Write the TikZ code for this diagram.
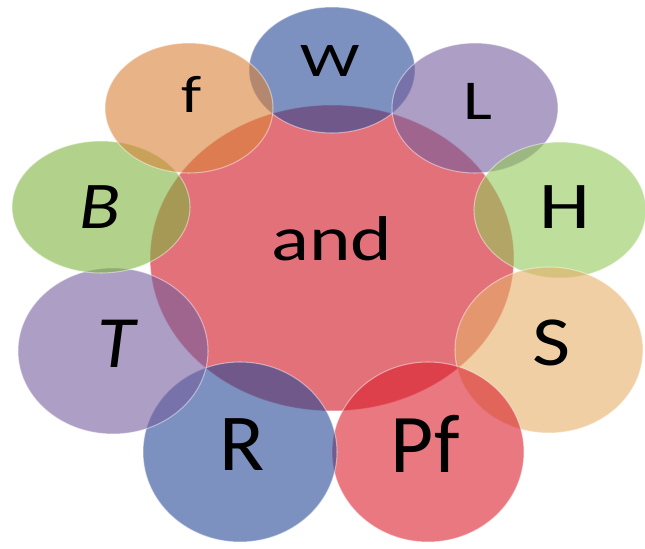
\documentclass[tikz,border=0pt]{standalone}
\usepackage{fontspec}
\setmainfont{Carlito}
\usetikzlibrary{shapes.geometric}

% disc colours (drawn at 60% opacity)
\definecolor{cand}{RGB}{207,18,33}
\definecolor{cblue}{RGB}{38,72,150}
\definecolor{cviolet}{RGB}{117,93,157}
\definecolor{cgreenH}{RGB}{147,200,88}
\definecolor{cgreenB}{RGB}{127,180,63}
\definecolor{cpeach}{RGB}{230,175,105}
\definecolor{corange}{RGB}{217,130,55}
\definecolor{cred}{RGB}{218,30,43}

% letters are stretched sideways by the tilt
\newcommand{\wtxt}[2]{\scalebox{#1}[1]{#2}}

\begin{document}
\begin{tikzpicture}[
    disc/.style={ellipse, draw=white, draw opacity=0.45, line width=0.6pt,
                 fill opacity=0.6, inner sep=0pt, outer sep=0pt},
    lbl/.style={inner sep=0pt, text=black},
]
\useasboundingbox (0,0) rectangle (12.9,10.96);
% ---- central disc ----
\node[disc, fill=cand, minimum width=7.28cm, minimum height=6.12cm] (and) at (6.64,5.80) {};
% ---- outer discs, clockwise from the top (each over the one before) ----
\node[disc, fill=cblue,   minimum width=3.32cm, minimum height=2.52cm] (W)  at (6.64,9.56) {};
\node[disc, fill=cviolet, minimum width=3.32cm, minimum height=2.60cm] (L)  at (9.50,8.80) {};
\node[disc, fill=cgreenH, minimum width=3.44cm, minimum height=2.72cm] (H)  at (11.20,6.76) {};
\node[disc, fill=cpeach,  minimum width=3.76cm, minimum height=3.32cm] (S)  at (10.98,3.96) {};
\node[disc, fill=cred,    minimum width=3.84cm, minimum height=3.60cm] (Pf) at (8.56,1.92) {};
\node[disc, fill=cblue,   minimum width=3.88cm, minimum height=3.60cm] (R)  at (4.80,1.92) {};
\node[disc, fill=cviolet, minimum width=3.80cm, minimum height=3.32cm] (T)  at (2.26,3.94) {};
\node[disc, fill=cgreenB, minimum width=3.56cm, minimum height=2.64cm] (B)  at (2.02,6.82) {};
\node[disc, fill=corange, minimum width=3.36cm, minimum height=2.60cm] (f)  at (3.78,8.80) {};

% ---- letters ----
\node[lbl, font=\fontsize{36}{40}\selectfont]   (and-t) at (6.64,6.19)  {\wtxt{1.25}{and}};
\node[lbl, font=\fontsize{27.5}{32}\selectfont] (W-t)   at (6.60,9.74)  {\wtxt{1.38}{W}};
\node[lbl, font=\fontsize{32}{36}\selectfont]   (L-t)   at (9.56,8.93)  {\wtxt{1.22}{L}};
\node[lbl, font=\fontsize{38}{42}\selectfont]   (H-t)   at (11.30,6.82) {\wtxt{1.22}{H}};
\node[lbl, font=\fontsize{40}{44}\selectfont]   (S-t)   at (11.04,4.10) {\wtxt{1.18}{S}};
\node[lbl, font=\fontsize{47.5}{52}\selectfont] (Pf-t)  at (8.50,2.08)  {\wtxt{1.00}{Pf}};
\node[lbl, font=\fontsize{46}{50}\selectfont]   (R-t)   at (4.84,2.06)  {\wtxt{1.03}{R}};
\node[lbl, font=\fontsize{42}{46}\selectfont\itshape] (T-t) at (2.32,4.08) {\wtxt{1.05}{T}};
\node[lbl, font=\fontsize{38}{42}\selectfont\itshape] (B-t) at (2.00,6.82) {\wtxt{1.13}{B}};
\node[lbl, font=\fontsize{30}{34}\selectfont]   (f-t)   at (3.84,9.07)  {\wtxt{1.25}{f}};
\end{tikzpicture}
\end{document}
